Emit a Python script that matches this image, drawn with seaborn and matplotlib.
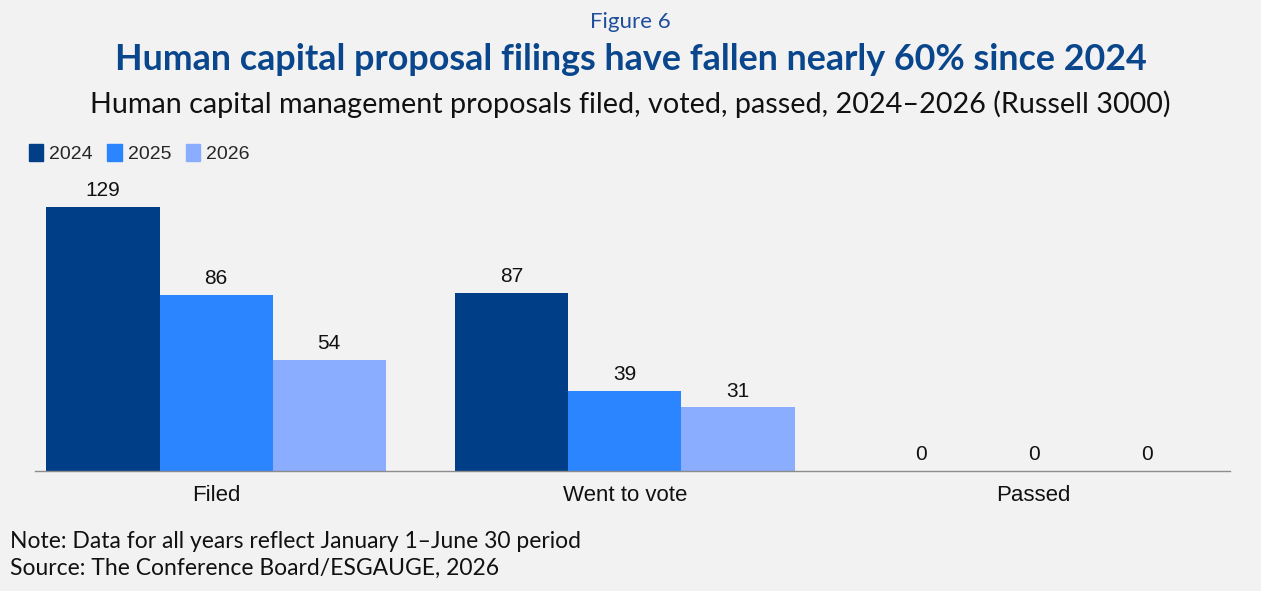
import pandas as pd
import seaborn as sns
import matplotlib.pyplot as plt

# chart data
categories = ["Filed", "Went to vote", "Passed"]
years = ["2024", "2025", "2026"]
values_2024 = [129, 87, 0]
values_2025 = [86, 39, 0]
values_2026 = [54, 31, 0]

colors = ["#003f87", "#2a85ff", "#8aadff"]
bg = "#f2f2f2"

df = pd.DataFrame({
    "category": categories * 3,
    "year": [y for y in years for _ in categories],
    "value": values_2024 + values_2025 + values_2026,
})

sns.set_style("white")
plt.rcParams["font.family"] = ["Liberation Sans", "DejaVu Sans"]

fig = plt.figure(figsize=(12.61, 5.91), dpi=100, facecolor=bg)
ax = fig.add_axes([35 / 1261, 1 - 471 / 591, 1195 / 1261, 290 / 591])
ax.set_facecolor(bg)

sns.barplot(data=df, x="category", y="value", hue="year", palette=colors,
            width=0.83, saturation=1, linewidth=0, ax=ax, legend=False)

for cont in ax.containers:
    ax.bar_label(cont, labels=[str(int(v)) for v in cont.datavalues],
                 padding=5, fontsize=15, color="#111111")

ax.set_xlim(-0.443, 2.48)
ax.set_ylim(0, 290 / 2.05)
ax.set_xlabel("")
ax.set_ylabel("")
ax.set_yticks([])
ax.tick_params(axis="x", length=0, labelsize=16, pad=10, labelcolor="#111111")
for s in ["top", "left", "right"]:
    ax.spines[s].set_visible(False)
ax.spines["bottom"].set_color("#8c8c8c")
ax.spines["bottom"].set_linewidth(1)

# legend
handles = [plt.Rectangle((0, 0), 1, 1, color=c) for c in colors]
fig.legend(handles, years, loc="upper left", bbox_to_anchor=(21 / 1261, 1 - 136 / 591),
           ncol=3, frameon=False, fontsize=14, handlelength=0.75, handleheight=0.95,
           handletextpad=0.3, columnspacing=0.75, borderaxespad=0)

# titles
fig.text(0.5, 1 - 22 / 591, "Figure 6", ha="center", va="center", fontsize=16,
         color="#1f4e9a", family="Lato")
fig.text(0.5, 1 - 60 / 591, "Human capital proposal filings have fallen nearly 60% since 2024",
         ha="center", va="center", fontsize=25.8, fontweight="bold", color="#0a468c", family="Lato")
fig.text(0.5, 1 - 104 / 591,
         "Human capital management proposals filed, voted, passed, 2024\u20132026 (Russell 3000)",
         ha="center", va="center", fontsize=20.7, color="#111111", family="Lato")

fig.text(10 / 1261, 1 - 542 / 591, "Note: Data for all years reflect January 1\u2013June 30 period",
         ha="left", va="center", fontsize=16.5, color="#111111", family="Lato")
fig.text(10 / 1261, 1 - 568 / 591, "Source: The Conference Board/ESGAUGE, 2026",
         ha="left", va="center", fontsize=16.5, color="#111111", family="Lato")

fig.savefig("out.png", dpi=100, facecolor=bg)
